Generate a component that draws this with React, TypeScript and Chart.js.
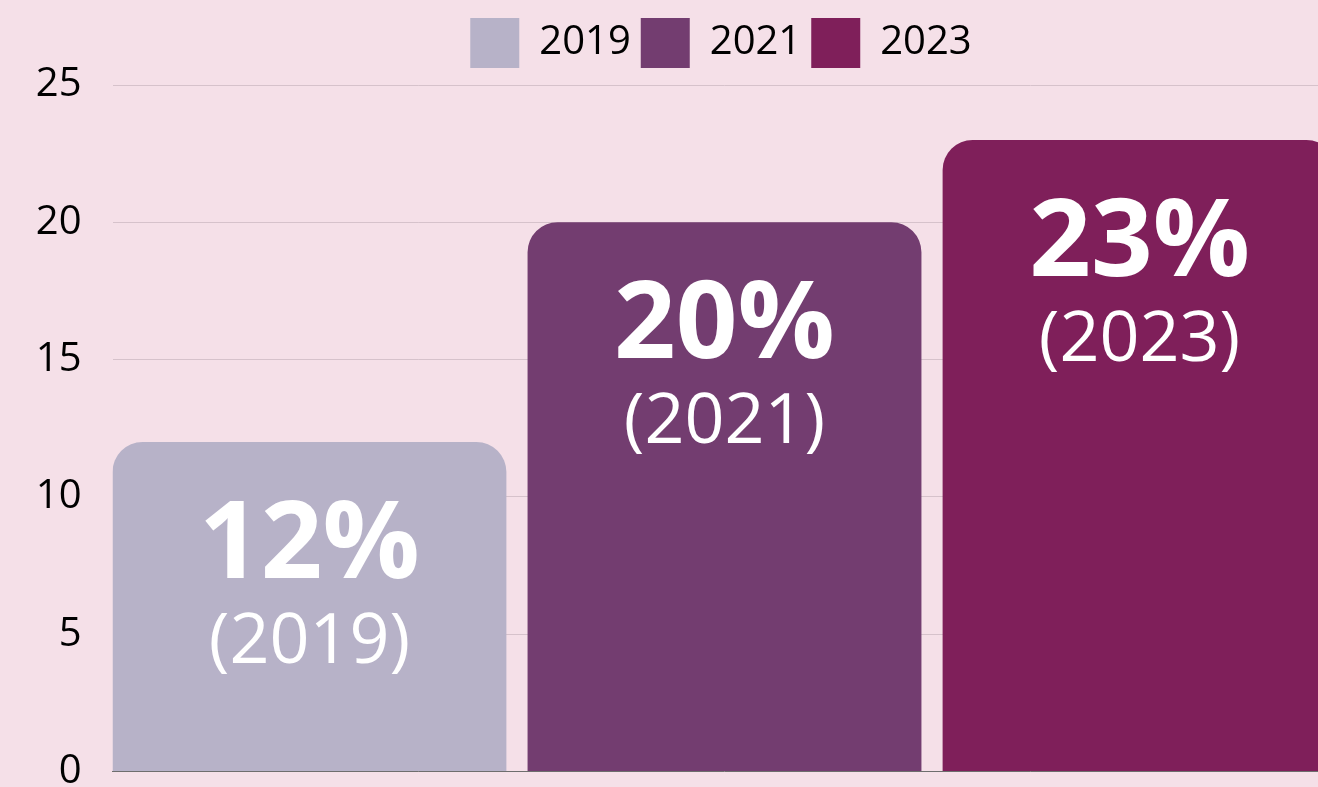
import React, { useEffect, useRef } from 'react';
import { Chart, registerables } from 'chart.js';

Chart.register(...registerables);

// ---- data ----
const years = ['2019', '2021', '2023'];
const shares = [12, 20, 23];
const barColors = ['#B7B2C8', '#733D70', '#7F1F5A'];
const yTickStep = 5;
const yMin = 0;
const yMax = 25;

// ---- style ----
const BG = '#F5E0E8';
const FONT = '"Open Sans", "DejaVu Sans", sans-serif';
const BAR_FRACTION = 0.949;

const barLabels = {
  id: 'barLabels',
  afterDatasetsDraw(chart: any) {
    const ctx = chart.ctx;
    chart.data.datasets.forEach((ds: any, i: number) => {
      const meta = chart.getDatasetMeta(i);
      if (meta.hidden) return;
      meta.data.forEach((el: any, j: number) => {
        const v = ds.data[j].y;
        const { x, y } = el.getProps(['x', 'y'], true);
        ctx.save();
        ctx.fillStyle = '#FFFFFF';
        ctx.textAlign = 'center';
        ctx.textBaseline = 'alphabetic';
        ctx.font = `bold 108px ${FONT}`;
        ctx.fillText(`${v}%`, x, y + 136);
        ctx.font = `70px ${FONT}`;
        ctx.fillText(`(${years[i]})`, x, y + 221);
        ctx.restore();
      });
    });
  },
};

export default function App() {
  const canvasRef = useRef<HTMLCanvasElement | null>(null);

  useEffect(() => {
    document.body.style.background = BG;
    const canvas = canvasRef.current;
    if (!canvas) return;
    const chart = new Chart(canvas, {
      type: 'bar',
      data: {
        datasets: years.map((yr, i) => ({
          label: yr,
          data: [{ x: i, y: shares[i] }],
          backgroundColor: barColors[i],
          borderWidth: 0,
          borderRadius: 30,
          borderSkipped: 'start',
          grouped: false,
          barPercentage: BAR_FRACTION,
          categoryPercentage: 1,
          xAxisID: 'x',
          yAxisID: 'y',
        })),
      },
      options: {
        animation: false,
        responsive: true,
        maintainAspectRatio: false,
        layout: { padding: { top: 8, left: 0, right: 0, bottom: 24.5 } },
        plugins: {
          legend: {
            position: 'top',
            align: 'center',
            labels: {
              boxWidth: 49,
              boxHeight: 50,
              padding: 10,
              color: '#000000',
              font: { family: FONT, size: 40 },
            },
          },
          tooltip: { enabled: false },
        },
        scales: {
          x: {
            type: 'linear',
            position: 'bottom',
            offset: false,
            min: -BAR_FRACTION / 2,
            max: years.length - 1 + BAR_FRACTION / 2,
            ticks: { display: false, stepSize: 1 },
            afterBuildTicks: (s: any) => {
              s.ticks = s.ticks.filter((t: any) => Number.isInteger(t.value));
            },
            grid: { display: false, drawTicks: false, offset: false },
            border: { display: true, color: '#6E6E6E', width: 1 },
          },
          xTop: {
            type: 'linear',
            axis: 'x',
            position: 'top',
            ticks: { display: false },
            grid: { display: false, drawTicks: false },
            border: { display: false },
            afterFit: (s: any) => {
              s.height = 7;
            },
          },
          y: {
            type: 'linear',
            position: 'left',
            min: yMin,
            max: yMax,
            ticks: {
              stepSize: yTickStep,
              color: '#000000',
              padding: 0,
              font: { family: FONT, size: 40 },
            },
            grid: {
              color: '#D6C2CB',
              lineWidth: 1,
              drawTicks: true,
              tickLength: 31,
              tickColor: 'rgba(0,0,0,0)',
            },
            border: { display: false },
            afterFit: (s: any) => {
              s.width = 112.5;
            },
          },
          yRight: {
            type: 'linear',
            axis: 'y',
            position: 'right',
            ticks: { display: false },
            grid: { display: false, drawTicks: false },
            border: { display: false },
            afterFit: (s: any) => {
              s.width = 105.5;
            },
          },
        },
      },
      plugins: [barLabels],
    } as any);
    return () => chart.destroy();
  }, []);

  return (
    <div
      style={{
        position: 'fixed',
        left: 0,
        top: 0,
        width: 1318,
        height: 787,
        overflow: 'hidden',
        background: BG,
      }}
    >
      <div style={{ position: 'absolute', left: 0, top: 0, width: 1442, height: 796 }}>
        <canvas ref={canvasRef} />
      </div>
    </div>
  );
}
